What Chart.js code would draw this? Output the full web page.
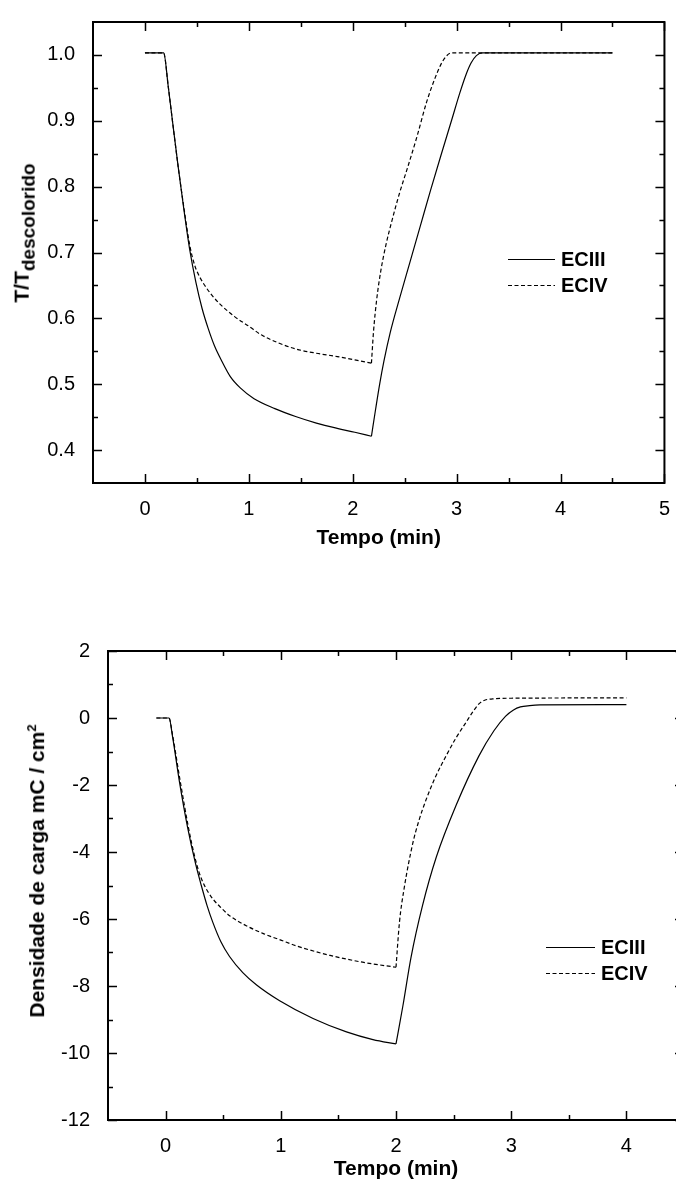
<!DOCTYPE html>
<html>
<head>
<meta charset="utf-8">
<title>Transmitância e densidade de carga</title>
<script src="https://cdn.jsdelivr.net/npm/chart.js@4.4.1/dist/chart.umd.min.js"></script>
<style>
  html, body {
    margin: 0;
    padding: 0;
    background: #fff;
    overflow: hidden;
  }
  body {
    position: relative;
    width: 676px;
    height: 1182px;
    font-family: "Liberation Sans", Arial, sans-serif;
  }
  canvas {
    position: absolute;
    left: 0;
  }
  #chart-top { top: 0; }
  #chart-bottom { top: 600px; }
  .y-title {
    position: absolute;
    transform: translate(-50%, -50%) rotate(-90deg);
    white-space: nowrap;
    font-weight: bold;
    font-size: 21px;
    line-height: 1;
    color: #000;
  }
  .y-title sub { font-size: 19px; vertical-align: -0.3em; }
  .y-title sup { font-size: 13px; vertical-align: 0.6em; }
</style>
</head>
<body>

<canvas id="chart-top" width="676" height="560" style="width:676px;height:560px"></canvas>
<canvas id="chart-bottom" width="700" height="582" style="width:700px;height:582px"></canvas>

<div class="y-title" style="left:24px; top:233px">T/T<sub>descolorido</sub></div>
<div class="y-title" style="left:36px; top:871px">Densidade de carga mC / cm<sup>2</sup></div>

<script>
"use strict";

/* ─── Data: transmittance T/T(bleached) vs time ─────────────── */

/* Time (min) at which the applied potential is reversed */
const TOP_SWITCH_T = 2.18;

const TOP_ECIII_T = [0, 0.18, 0.225, 0.27, 0.32, 0.375, 0.43, 0.49, 0.55, 0.61, 0.67, 0.74, 0.82, 0.92, 1.05, 1.25, 1.45, 1.65, 1.85, 2.02, 2.18,
  2.22, 2.26, 2.30, 2.36, 2.45, 2.55, 2.65, 2.75, 2.85, 2.95, 3.03, 3.09, 3.14, 3.19, 3.25, 4.5];
const TOP_ECIII_V = [1.003, 1.003, 0.951, 0.893, 0.830, 0.765, 0.705, 0.655, 0.615, 0.584, 0.558, 0.535, 0.512, 0.494, 0.478, 0.463, 0.451, 0.441, 0.433, 0.427, 0.421,
  0.462, 0.501, 0.535, 0.578, 0.630, 0.685, 0.740, 0.795, 0.848, 0.900, 0.942, 0.970, 0.988, 0.999, 1.003, 1.003];

const TOP_ECIV_T = [0, 0.18, 0.225, 0.27, 0.32, 0.375, 0.43, 0.48, 0.53, 0.58, 0.64, 0.72, 0.86, 1.0, 1.12, 1.28, 1.44, 1.65, 1.85, 2.02, 2.18,
  2.20, 2.23, 2.27, 2.32, 2.38, 2.45, 2.53, 2.62, 2.71, 2.79, 2.85, 2.90, 2.95, 4.5];
const TOP_ECIV_V = [1.003, 1.003, 0.951, 0.893, 0.830, 0.768, 0.712, 0.680, 0.662, 0.649, 0.636, 0.622, 0.603, 0.588, 0.575, 0.563, 0.554, 0.547, 0.542, 0.537, 0.532,
  0.580, 0.628, 0.672, 0.712, 0.750, 0.790, 0.830, 0.877, 0.928, 0.964, 0.986, 0.998, 1.003, 1.003];

/* Axis ticks of the transmittance panel */
const TOP_X_MIN = -0.5, TOP_X_MAX = 5;
const TOP_Y_MIN = 0.35, TOP_Y_MAX = 1.05;
const TOP_X_MAJOR = [0, 1, 2, 3, 4, 5];
const TOP_X_MINOR = [0.5, 1.5, 2.5, 3.5, 4.5];
const TOP_Y_MAJOR = [0.4, 0.5, 0.6, 0.7, 0.8, 0.9, 1.0];
const TOP_Y_MINOR = [0.45, 0.55, 0.65, 0.75, 0.85, 0.95];

/* ─── Data: charge density (mC/cm²) vs time ─────────────────── */

const BOT_SWITCH_T = 2.0;

const BOT_ECIII_T = [-0.08, 0.03, 0.06, 0.12, 0.19, 0.26, 0.31, 0.36, 0.41, 0.48, 0.555, 0.67, 0.79, 0.99, 1.28, 1.57, 1.8, 2.0,
  2.06, 2.13, 2.23, 2.35, 2.52, 2.72, 2.85, 2.95, 3.02, 3.08, 3.16, 3.25, 4.0];
const BOT_ECIII_Q = [0, 0, -0.55, -1.9, -3.25, -4.35, -5.0, -5.6, -6.1, -6.68, -7.12, -7.6, -7.97, -8.44, -8.97, -9.37, -9.6, -9.73,
  -8.59, -7.15, -5.6, -4.15, -2.62, -1.13, -0.38, 0.05, 0.24, 0.33, 0.37, 0.39, 0.40];

const BOT_ECIV_T = [-0.08, 0.03, 0.06, 0.125, 0.2, 0.25, 0.29, 0.33, 0.37, 0.41, 0.48, 0.555, 0.70, 0.844, 1.0, 1.133, 1.42, 1.71, 2.0,
  2.03, 2.07, 2.145, 2.2, 2.26, 2.34, 2.435, 2.52, 2.608, 2.67, 2.72, 2.77, 2.84, 3.0, 4.0];
const BOT_ECIV_Q = [0, 0, -0.5, -1.85, -3.3, -4.1, -4.6, -4.95, -5.2, -5.4, -5.66, -5.9, -6.2, -6.43, -6.63, -6.8, -7.08, -7.29, -7.44,
  -6.1, -5.1, -3.75, -3.05, -2.45, -1.78, -1.13, -0.6, -0.13, 0.2, 0.42, 0.53, 0.57, 0.59, 0.60];

/* Axis ticks of the charge panel */
const BOT_X_MIN = -0.5, BOT_X_MAX = 4.5;
const BOT_Y_MIN = -12, BOT_Y_MAX = 2;
const BOT_X_MAJOR = [0, 1, 2, 3, 4];
const BOT_X_MINOR = [0.5, 1.5, 2.5, 3.5];
const BOT_Y_MAJOR = [2, 0, -2, -4, -6, -8, -10, -12];
const BOT_Y_MINOR = [1, -1, -3, -5, -7, -9, -11];

const SERIES_NAMES = ["ECIII", "ECIV"];
const SERIES_DASH = [[], [4, 2.5]];

/* ─── Helpers ───────────────────────────────────────────────── */

const FONT = "'Liberation Sans', Arial, sans-serif";

Chart.defaults.font.family = FONT;
Chart.defaults.color = "#000";

/* Zips a time array and a value array into {x, y} points */
function toPoints(t, v) {
  return t.map(function (x, i) {
    return { x: x, y: v[i] };
  });
}

/*
 * One series is drawn as two smooth branches (colouring / bleaching)
 * that meet at the reversal time, so the corner there stays sharp.
 */
function branches(t, v, switchT, dash) {
  const pts = toPoints(t, v);
  const parts = [
    pts.filter(function (p) { return p.x <= switchT; }),
    pts.filter(function (p) { return p.x >= switchT; }),
  ];
  return parts.map(function (part) {
    return {
      data: part,
      borderColor: "#000",
      borderWidth: 1.2,
      borderDash: dash,
      pointRadius: 0,
      cubicInterpolationMode: "monotone",
      fill: false,
    };
  });
}

/* Draws the closed frame with inward ticks on all four sides */
const frameTicks = {
  id: "frameTicks",
  afterDraw: function (chart, args, opts) {
    const ctx = chart.ctx;
    const a = chart.chartArea;
    const xs = chart.scales.x;
    const ys = chart.scales.y;
    const MAJOR = 9, MINOR = 5;

    ctx.save();
    ctx.strokeStyle = "#000";
    ctx.lineWidth = 1.5;
    ctx.setLineDash([]);

    function xMarks(vals, len) {
      vals.forEach(function (v) {
        const px = Math.round(xs.getPixelForValue(v)) + 0.5;
        ctx.beginPath();
        ctx.moveTo(px, a.bottom); ctx.lineTo(px, a.bottom - len);
        ctx.moveTo(px, a.top); ctx.lineTo(px, a.top + len);
        ctx.stroke();
      });
    }
    function yMarks(vals, len) {
      vals.forEach(function (v) {
        const py = Math.round(ys.getPixelForValue(v)) + 0.5;
        ctx.beginPath();
        ctx.moveTo(a.left, py); ctx.lineTo(a.left + len, py);
        ctx.moveTo(a.right, py); ctx.lineTo(a.right - len, py);
        ctx.stroke();
      });
    }

    xMarks(opts.xMajor, MAJOR);
    xMarks(opts.xMinor, MINOR);
    yMarks(opts.yMajor, MAJOR);
    yMarks(opts.yMinor, MINOR);

    ctx.lineWidth = 2;
    ctx.strokeRect(a.left, a.top, a.right - a.left, a.bottom - a.top);
    ctx.restore();
  },
};

/* Legend drawn as short line samples next to bold labels */
const lineLegend = {
  id: "lineLegend",
  afterDraw: function (chart, args, opts) {
    const ctx = chart.ctx;
    SERIES_NAMES.forEach(function (name, i) {
      const y = opts.y + i * opts.gap + 0.5;
      ctx.save();
      ctx.strokeStyle = "#000";
      ctx.lineWidth = 1.2;
      ctx.setLineDash(SERIES_DASH[i]);
      ctx.beginPath();
      ctx.moveTo(opts.x, y);
      ctx.lineTo(opts.x + opts.len, y);
      ctx.stroke();
      ctx.setLineDash([]);
      ctx.fillStyle = "#000";
      ctx.font = "bold 20px " + FONT;
      ctx.textBaseline = "middle";
      ctx.fillText(name, opts.x + opts.len + 6, y + 1);
      ctx.restore();
    });
  },
};

/*
 * Builds a chart config for one panel.
 * p holds the ranges, tick lists, layout numbers and datasets.
 */
function panelConfig(p) {
  return {
    type: "line",
    data: { datasets: p.datasets },
    plugins: [frameTicks, lineLegend],
    options: {
      responsive: false,
      animation: false,
      devicePixelRatio: 1,
      layout: { padding: p.padding },
      plugins: {
        legend: { display: false },
        tooltip: { enabled: false },
        frameTicks: { xMajor: p.xMajor, xMinor: p.xMinor, yMajor: p.yMajor, yMinor: p.yMinor },
        lineLegend: p.legend,
      },
      scales: {
        x: {
          type: "linear",
          min: p.xMin,
          max: p.xMax,
          grid: { display: false },
          border: { display: false },
          afterBuildTicks: function (scale) {
            scale.ticks = p.xMajor.map(function (v) { return { value: v }; });
          },
          afterFit: function (scale) { scale.height = p.xAxisHeight; },
          ticks: {
            autoSkip: false,
            maxRotation: 0,
            padding: 6,
            font: { size: 20 },
            callback: function (v) { return String(v); },
          },
          title: {
            display: true,
            text: "Tempo (min)",
            font: { size: 21, weight: "bold" },
            padding: { top: 0, bottom: p.titlePad },
          },
        },
        y: {
          type: "linear",
          min: p.yMin,
          max: p.yMax,
          grid: { display: false },
          border: { display: false },
          afterBuildTicks: function (scale) {
            scale.ticks = p.yMajor.map(function (v) { return { value: v }; });
          },
          afterFit: function (scale) { scale.width = p.yAxisWidth; },
          ticks: {
            autoSkip: false,
            padding: 10,
            font: { size: 20 },
            callback: p.yFormat,
          },
        },
      },
    },
  };
}

/* ─── Transmittance panel ───────────────────────────────────── */

new Chart(document.getElementById("chart-top"), panelConfig({
  datasets: [].concat(
    branches(TOP_ECIII_T, TOP_ECIII_V, TOP_SWITCH_T, SERIES_DASH[0]),
    branches(TOP_ECIV_T, TOP_ECIV_V, TOP_SWITCH_T, SERIES_DASH[1])
  ),
  xMin: TOP_X_MIN, xMax: TOP_X_MAX, yMin: TOP_Y_MIN, yMax: TOP_Y_MAX,
  xMajor: TOP_X_MAJOR, xMinor: TOP_X_MINOR, yMajor: TOP_Y_MAJOR, yMinor: TOP_Y_MINOR,
  padding: { left: 0, top: 15, right: 4, bottom: 0 },
  yAxisWidth: 93,
  xAxisHeight: 77,
  titlePad: 9,
  legend: { x: 508, y: 259, gap: 26, len: 47 },
  yFormat: function (v) { return v.toFixed(1); },
}));

/* ─── Charge density panel ──────────────────────────────────── */

new Chart(document.getElementById("chart-bottom"), panelConfig({
  datasets: [].concat(
    branches(BOT_ECIII_T, BOT_ECIII_Q, BOT_SWITCH_T, SERIES_DASH[0]),
    branches(BOT_ECIV_T, BOT_ECIV_Q, BOT_SWITCH_T, SERIES_DASH[1])
  ),
  xMin: BOT_X_MIN, xMax: BOT_X_MAX, yMin: BOT_Y_MIN, yMax: BOT_Y_MAX,
  xMajor: BOT_X_MAJOR, xMinor: BOT_X_MINOR, yMajor: BOT_Y_MAJOR, yMinor: BOT_Y_MINOR,
  padding: { left: 0, top: 51, right: 16, bottom: 0 },
  yAxisWidth: 108,
  xAxisHeight: 62,
  titlePad: 0,
  legend: { x: 546, y: 347, gap: 26, len: 49 },
  yFormat: function (v) { return String(v); },
}));
</script>
</body>
</html>
